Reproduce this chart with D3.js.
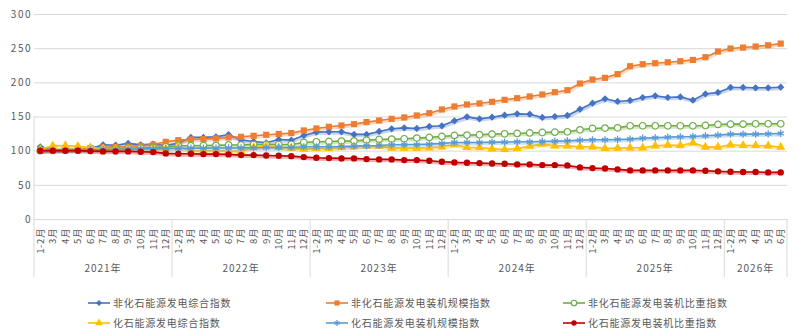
<!DOCTYPE html>
<html>
<head>
<meta charset="utf-8">
<script src="https://cdn.jsdelivr.net/npm/d3@7"></script>
<style>
  body { margin: 0; background: #fff; }
  text { font-family: "Noto Sans CJK SC", "Noto Sans", sans-serif; fill: #595959; }
</style>
</head>
<body>
<svg id="chart" width="797" height="335"></svg>
<script>
// years and months of the category axis
var years = ["2021年", "2022年", "2023年", "2024年", "2025年", "2026年"];
var monthsFull = ["1-2月", "3月", "4月", "5月", "6月", "7月", "8月", "9月", "10月", "11月", "12月"];
var months2026 = ["1-2月", "3月", "4月", "5月", "6月"];
var yTicks = [0, 50, 100, 150, 200, 250, 300];

// series names
var names = ["非化石能源发电综合指数", "非化石能源发电装机规模指数", "非化石能源发电装机比重指数",
  "化石能源发电综合指数", "化石能源发电装机规模指数", "化石能源发电装机比重指数"];

// values, one per month
var nonFossilGen = [105.7, 101.5, 101.5, 102, 103, 108.6, 108, 110.6, 108.5, 109.6, 107.5,
  111, 119.4, 119.4, 120.3, 123.5, 115.5, 113.5, 111.5, 116.4, 115.4, 122.3,
  127.1, 127.6, 127.6, 123.8, 123.8, 128.1, 132, 133.4, 132.5, 135.4, 136.4,
  143.7, 149.5, 146.6, 149, 152, 153.9, 153.4, 148.6, 150, 151.5, 160.7,
  169.5, 175.9, 172, 173.5, 177.8, 180.2, 177.8, 178.7, 173.9, 183.1, 185.2,
  192.5, 192.5, 192, 192, 192.9];
var nonFossilScale = [100, 101, 101.5, 102.5, 104, 104.5, 105.5, 106, 107, 108.8, 113,
  115.4, 116.4, 117, 118, 119.4, 120.3, 121.8, 123.3, 124.5, 125.7, 129.6,
  132.5, 134.9, 136.9, 138.8, 141.8, 144.2, 146.6, 148.6, 151.5, 154.9, 160.3,
  164.7, 167.6, 169.1, 171.5, 174.4, 176.8, 179.3, 182.2, 185.6, 188.5, 198.3,
  204.1, 206.6, 212, 223.6, 226.5, 228, 229.4, 230.9, 232.8, 236.8, 245.1,
  249.5, 250.9, 252.4, 254.3, 256.7];
var nonFossilShare = [100, 100.5, 101, 101.5, 102, 102.5, 103, 103.5, 104, 104.5, 105.7,
  107.3, 107.3, 107.6, 107.8, 108.3, 108.4, 109, 109, 109, 109, 112,
  113, 113.5, 114, 114.4, 115.4, 116.4, 116.9, 117.4, 118.4, 119.4, 120.8,
  122.3, 122.8, 123.3, 124.2, 124.7, 125.2, 125.9, 126.6, 127.1, 127.6, 130.5,
  132.5, 133, 133.4, 136.4, 136.4, 136.4, 136.4, 136.4, 136.4, 136.9, 138.4,
  138.8, 138.8, 139.3, 139.3, 139.3];
var fossilGen = [102, 107, 107.5, 106.5, 104.5, 103, 102.5, 102, 102, 102, 102.5,
  106, 99.5, 99.5, 99.5, 99, 99, 105, 107, 104.7, 103.7, 102.3,
  103.2, 103.2, 104.7, 105.7, 106.7, 106.7, 103.7, 103.7, 103.7, 104.2, 105.7,
  109, 104.7, 104.7, 102.8, 101.8, 103.2, 106.6, 109.6, 107.1, 107.1, 105.7,
  105.7, 103.2, 103.7, 104.2, 104.2, 107.1, 108.1, 107.6, 111.5, 105.2, 105.2,
  108.6, 107.6, 107.6, 107.1, 105.2];
var fossilScale = [100, 100.3, 100.6, 101, 101.3, 101.6, 102, 102.3, 102.6, 103, 103.2,
  103.5, 103.6, 103.7, 103.8, 104, 104.1, 104.2, 104.3, 104.7, 104.7, 105.7,
  105.7, 105.7, 106.2, 106.7, 107.1, 107.6, 108.6, 109, 109, 109.6, 110.6,
  112, 112, 112, 112.5, 112.5, 113, 113, 113.5, 114, 114.4, 115.4,
  115.9, 115.9, 116.4, 116.9, 118.4, 118.9, 119.8, 120.3, 120.8, 121.8, 122.8,
  124.2, 124.2, 124.2, 124.7, 125.2];
var fossilShare = [100, 100, 100, 100, 99.4, 98.9, 98.9, 98.9, 98.4, 97.9, 96,
  95.5, 95.5, 95, 95, 94.5, 93.5, 93.5, 93, 92.5, 92, 90.6,
  89.6, 89.1, 88.7, 88.7, 87.7, 87.2, 87.2, 86.2, 86.2, 85.2, 83.8,
  82.8, 82.3, 81.8, 81.3, 80.8, 79.9, 79.9, 78.9, 78.9, 78.4, 75.5,
  74.5, 74, 72.6, 71.1, 71.1, 71.1, 71.1, 71.1, 71.1, 70.6, 69.7,
  69.2, 68.7, 68.7, 68.2, 68.2];

// building the category list out of the years and months
var categories = [];
years.forEach(function(yr, yi) {
  var ms = yi === years.length - 1 ? months2026 : monthsFull;
  ms.forEach(function(m) { categories.push({year: yr, month: m}); });
});

var series = [
  {name: names[0], values: nonFossilGen, color: "#4472C4", marker: "diamond"},
  {name: names[1], values: nonFossilScale, color: "#ED7D31", marker: "square"},
  {name: names[2], values: nonFossilShare, color: "#70AD47", marker: "ring"},
  {name: names[3], values: fossilGen, color: "#FFC000", marker: "triangle"},
  {name: names[4], values: fossilScale, color: "#5B9BD5", marker: "star"},
  {name: names[5], values: fossilShare, color: "#C00000", marker: "dot"}
];

var svg = d3.select("#chart"),
    margin = {top: 14, right: 10, bottom: 116, left: 34},
    width = +svg.attr("width") - margin.left - margin.right,
    height = +svg.attr("height") - margin.top - margin.bottom;

var x = d3.scaleBand().domain(d3.range(categories.length)).range([0, width]).padding(0);
var y = d3.scaleLinear().domain([0, 300]).range([height, 0]);

var g = svg.append("g")
    .attr("transform", "translate(" + margin.left + "," + margin.top + ")");

// gridlines and y labels
var yAxis = g.append("g")
    .attr("class", "axis axis--y")
    .call(d3.axisLeft(y).tickValues(yTicks).tickSize(-width).tickPadding(4));
yAxis.select(".domain").remove();
yAxis.selectAll("line").attr("stroke", "#d9d9d9");
yAxis.selectAll("text")
    .attr("fill", "#595959")
    .style("font-size", "10px")
    .style("letter-spacing", "1.5px")
    .attr("x", -2);

// left edge line
g.append("line")
    .attr("x1", 0).attr("x2", 0)
    .attr("y1", y(150)).attr("y2", height + 58)
    .attr("stroke", "#d9d9d9");

// month labels, rotated
var xAxis = g.append("g")
    .attr("class", "axis axis--x")
    .attr("transform", "translate(0," + height + ")")
    .call(d3.axisBottom(x).tickSize(0).tickFormat(function(i) { return categories[i].month; }));
xAxis.select(".domain").attr("stroke", "#d9d9d9");
xAxis.selectAll("text")
    .attr("transform", "rotate(-90)")
    .attr("x", -9)
    .attr("y", 0)
    .attr("dy", "0.35em")
    .attr("text-anchor", "end")
    .attr("fill", "#595959")
    .style("font-size", "9.5px")
    .style("letter-spacing", "0.6px");

// year groups: separators and labels
var groups = [];
categories.forEach(function(c, i) {
  var last = groups[groups.length - 1];
  if (!last || last.year !== c.year) groups.push({year: c.year, start: i, end: i});
  else last.end = i;
});

g.selectAll(".sep")
  .data(groups)
  .enter().append("line")
    .attr("class", "sep")
    .attr("x1", function(d) { return x(d.end) + x.bandwidth(); })
    .attr("x2", function(d) { return x(d.end) + x.bandwidth(); })
    .attr("y1", height)
    .attr("y2", height + 58)
    .attr("stroke", "#d9d9d9");

g.selectAll(".yearLabel")
  .data(groups)
  .enter().append("text")
    .attr("class", "yearLabel")
    .attr("x", function(d) { return (x(d.start) + x(d.end) + x.bandwidth()) / 2; })
    .attr("y", height + 53)
    .attr("text-anchor", "middle")
    .style("font-size", "10px")
    .style("letter-spacing", "1px")
    .text(function(d) { return d.year; });

// marker drawing, the diamond is a square turned 45 degrees
function drawMarker(sel, type, color, s) {
  var sym = {
    diamond: d3.symbolSquare, square: d3.symbolSquare, ring: d3.symbolCircle,
    triangle: d3.symbolTriangle, star: d3.symbolAsterisk, dot: d3.symbolCircle
  }[type];
  var size = {diamond: 26, square: 38, ring: 34, triangle: 36, star: 36, dot: 32}[type] * s;
  sel.attr("d", d3.symbol().type(sym).size(size))
    .attr("fill", type === "ring" ? "#fff" : (type === "star" ? "none" : color))
    .attr("stroke", type === "ring" || type === "star" ? color : "none")
    .attr("stroke-width", type === "star" ? 1.3 : 1.2);
  if (type === "diamond") {
    sel.attr("transform", function() {
      var t = d3.select(this).attr("transform") || "";
      return t + " rotate(45)";
    });
  }
}

var line = d3.line()
    .x(function(d, i) { return x(i) + x.bandwidth() / 2; })
    .y(function(d) { return y(d); });

// drawing each series with a soft shadow like the original
series.forEach(function(s) {
  var sg = g.append("g").attr("class", "series");
  sg.append("path")
      .datum(s.values)
      .attr("fill", "none")
      .attr("stroke", s.color)
      .attr("stroke-opacity", 0.3)
      .attr("stroke-width", 3.5)
      .attr("transform", "translate(0.8,1.2)")
      .attr("d", line);
  sg.append("path")
      .datum(s.values)
      .attr("fill", "none")
      .attr("stroke", s.color)
      .attr("stroke-width", 1.6)
      .attr("d", line);
  sg.selectAll(".marker")
    .data(s.values)
    .enter().append("path")
      .attr("class", "marker")
      .attr("transform", function(d, i) { return "translate(" + (x(i) + x.bandwidth() / 2) + "," + y(d) + ")"; })
      .call(drawMarker, s.marker, s.color, 1);
});

// legend, 3 columns by 2 rows
var legendX = [88, 326, 563],
    legendY = [303, 323];
var legend = svg.selectAll(".legend")
  .data(series)
  .enter().append("g")
    .attr("class", "legend")
    .attr("transform", function(d, i) { return "translate(" + legendX[i % 3] + "," + legendY[Math.floor(i / 3)] + ")"; });

legend.append("line")
    .attr("x1", 0).attr("x2", 22)
    .attr("stroke", function(d) { return d.color; })
    .attr("stroke-width", 1.6);
legend.append("path")
    .attr("transform", "translate(11,0)")
    .each(function(d) { d3.select(this).call(drawMarker, d.marker, d.color, 0.7); });
legend.append("text")
    .attr("x", 25)
    .attr("dy", "0.35em")
    .style("font-size", "10px")
    .style("letter-spacing", "0.75px")
    .text(function(d) { return d.name; });
</script>
</body>
</html>
